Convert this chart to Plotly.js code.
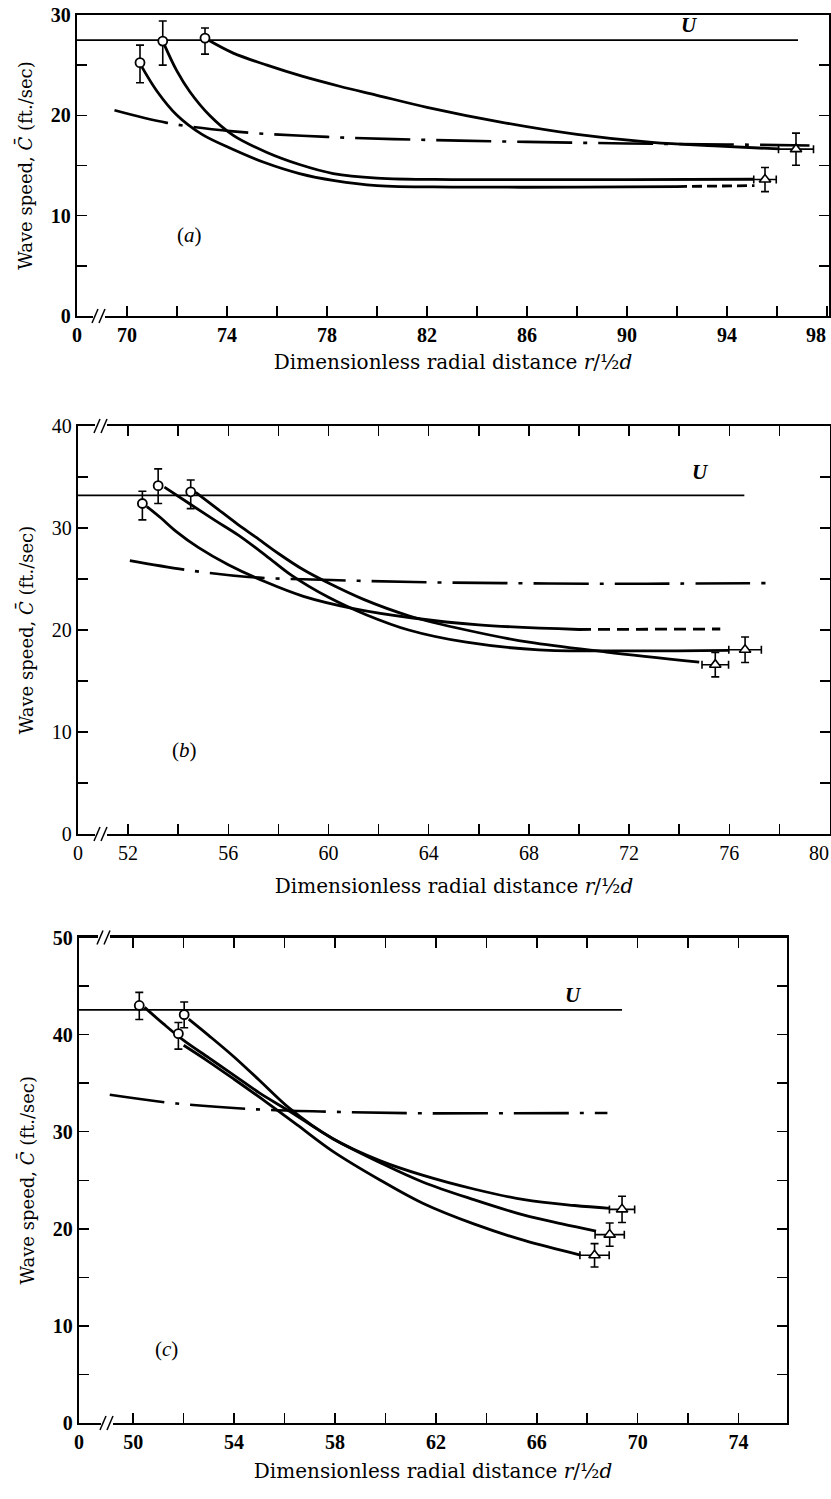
<!DOCTYPE html>
<html>
<head>
<meta charset="utf-8">
<script src="https://cdn.plot.ly/plotly-3.0.1.min.js"></script>
<style>html,body{margin:0;padding:0;background:#fff;}#chart{width:831px;height:1499px;}</style>
</head>
<body>
<div id="chart"></div>
<script>
// ---------- Panel (a) ----------
const aUx = [68, 96.84];
const aUy = [27.5, 27.5];
const aCircX = [70.52, 71.43, 73.12];
const aCircY = [25.25, 27.4, 27.7];
const aCircErrPlus = [1.75, 2.0, 1.0];
const aCircErrMinus = [2.0, 2.4, 1.6];
const aTriX = [95.52, 96.76];
const aTriY = [13.6, 16.63];
const aTriErrY = [1.2, 1.6];
const aTriErrX = [0.45, 0.7];
const aCurve1X = [70.6, 71.2, 72.0, 73.0, 74.25, 75.5, 76.9, 78.3, 80, 83, 88, 92];
const aCurve1Y = [24.8, 22.4, 20.0, 18.1, 16.6, 15.3, 14.2, 13.5, 13.0, 12.85, 12.85, 12.9];
const aCurve1DashX = [92, 95.1];
const aCurve1DashY = [12.9, 13.0];
const aCurve2X = [71.5, 72.0, 72.5, 73.3, 74.25, 75.6, 76.9, 78.25, 80, 83, 90, 95.05];
const aCurve2Y = [27.0, 24.4, 22.4, 20.0, 18.0, 16.3, 15.1, 14.2, 13.75, 13.6, 13.6, 13.63];
const aCurve3X = [73.25, 74.25, 75.6, 77, 78.5, 80, 82, 85, 88, 91, 93.5, 96.1];
const aCurve3Y = [27.5, 26.2, 25.0, 23.9, 22.9, 22.0, 20.8, 19.3, 18.1, 17.3, 16.95, 16.65];
const aDashDotX = [69.5, 71.6, 74.25, 78, 82, 86, 90, 94, 97.3];
const aDashDotY = [20.5, 19.25, 18.4, 17.85, 17.55, 17.35, 17.2, 17.1, 17.0];
const aXTickVals = [68, 70, 72, 74, 76, 78, 80, 82, 84, 86, 88, 90, 92, 94, 96, 98];
const aXTickText = ['0', '70', '', '74', '', '78', '', '82', '', '86', '', '90', '', '94', '', '98'];
const aYTickVals = [0, 5, 10, 15, 20, 25, 30];
const aYTickText = ['0', '', '10', '', '20', '', '30'];

// ---------- Panel (b) ----------
const bUx = [50, 76.6];
const bUy = [33.2, 33.2];
const bCircX = [52.57, 53.2, 54.5];
const bCircY = [32.4, 34.15, 33.55];
const bCircErrPlus = [1.2, 1.65, 1.15];
const bCircErrMinus = [1.6, 1.75, 1.65];
const bTriX = [75.44, 76.63];
const bTriY = [16.6, 18.07];
const bTriErrY = [1.2, 1.25];
const bTriErrX = [0.53, 0.65];
const bCurve1X = [52.75, 53.3, 53.9, 54.8, 56, 57.5, 59, 61, 63.3, 66, 70];
const bCurve1Y = [32.1, 31.0, 29.7, 28.1, 26.4, 24.7, 23.3, 22.1, 21.2, 20.5, 20.05];
const bCurve1DashX = [70.0, 75.64];
const bCurve1DashY = [20.05, 20.1];
const bCurve2X = [53.45, 54.5, 55.5, 56.4, 57.5, 58.5, 60, 61.5, 63.2, 65.5, 68.4, 72, 76];
const bCurve2Y = [34.0, 32.3, 30.7, 29.3, 27.3, 25.4, 23.2, 21.5, 20.0, 18.8, 18.05, 17.95, 18.0];
const bCurve3X = [54.7, 55.5, 56.3, 57.1, 58.0, 59.0, 60.0, 61.4, 63.2, 65.5, 68, 71.1, 74.8];
const bCurve3Y = [33.5, 32.0, 30.5, 29.1, 27.5, 25.9, 24.6, 23.0, 21.4, 20.0, 18.8, 17.84, 16.86];
const bDashDotX = [52.07, 54.3, 56.8, 60.1, 63.4, 67, 71.1, 74, 77.5];
const bDashDotY = [26.8, 25.9, 25.2, 24.9, 24.7, 24.6, 24.53, 24.55, 24.6];
const bXTickVals = [50, 52, 54, 56, 58, 60, 62, 64, 66, 68, 70, 72, 74, 76, 78, 80];
const bXTickText = ['0', '52', '', '56', '', '60', '', '64', '', '68', '', '72', '', '76', '', '80'];
const bYTickVals = [0, 5, 10, 15, 20, 25, 30, 35, 40];
const bYTickText = ['0', '', '10', '', '20', '', '30', '', '40'];

// ---------- Panel (c) ----------
const cUx = [47.85, 69.38];
const cUy = [42.55, 42.55];
const cCircX = [50.24, 51.79, 52.02];
const cCircY = [43.0, 40.1, 42.05];
const cCircErrPlus = [1.35, 1.15, 1.3];
const cCircErrMinus = [1.45, 1.6, 1.35];
const cTriX = [69.38, 68.89, 68.29];
const cTriY = [22.0, 19.4, 17.27];
const cTriErrY = [1.35, 1.2, 1.2];
const cTriErrX = [0.5, 0.58, 0.58];
const cCurve1X = [50.45, 51.2, 52.0, 53.0, 54.0, 55.0, 56.2, 57.9, 59.8, 61.5, 63.5, 65.5, 67, 68.35];
const cCurve1Y = [42.8, 41.1, 39.4, 37.6, 35.8, 34.0, 32.1, 29.3, 26.8, 24.8, 23.0, 21.4, 20.5, 19.75];
const cCurve2X = [52.0, 53.0, 54.0, 55.3, 56.5, 57.9, 59.8, 61.5, 63.5, 65.5, 67.73];
const cCurve2Y = [38.9, 37.2, 35.4, 33.0, 30.7, 28.0, 25.0, 22.6, 20.5, 18.8, 17.3];
const cCurve3X = [52.2, 53.0, 54.0, 55.0, 56.2, 57.9, 59.8, 61.5, 63.5, 65.5, 67.5, 68.9];
const cCurve3Y = [41.6, 39.9, 37.7, 35.3, 32.4, 29.3, 27.0, 25.5, 24.1, 23.0, 22.4, 22.1];
const cDashDotX = [49.07, 51.72, 54.9, 57.94, 61.25, 65, 68.8];
const cDashDotY = [33.8, 32.9, 32.3, 32.05, 31.9, 31.9, 31.93];
const cXTickVals = [47.85, 50, 52, 54, 56, 58, 60, 62, 64, 66, 68, 70, 72, 74];
const cXTickText = ['0', '50', '', '54', '', '58', '', '62', '', '66', '', '70', '', '74'];
const cYTickVals = [0, 5, 10, 15, 20, 25, 30, 35, 40, 45, 50];
const cYTickText = ['0', '', '10', '', '20', '', '30', '', '40', '', '50'];

// ---------- helpers ----------
const W = 831, H = 1499;
const FONT = 'Liberation Serif, Times New Roman, serif';
const TFONT = 'DejaVu Serif, Liberation Serif, serif';
const px = v => v / W;
const py = v => 1 - v / H;

function curve(x, y, xa, ya, opts) {
  opts = opts || {};
  return {
    x: x, y: y, xaxis: xa, yaxis: ya, type: 'scatter', mode: 'lines',
    line: {color: '#000', width: opts.width || 2.8, dash: opts.dash || 'solid', shape: opts.shape || 'spline', smoothing: 1},
    hoverinfo: 'skip', showlegend: false
  };
}
function circles(x, y, ep, em, xa, ya) {
  return {
    x: x, y: y, xaxis: xa, yaxis: ya, type: 'scatter', mode: 'markers',
    marker: {symbol: 'circle', size: 9, color: '#fff', line: {color: '#000', width: 1.8}},
    error_y: {type: 'data', symmetric: false, array: ep, arrayminus: em, color: '#000', thickness: 1.6, width: 4},
    showlegend: false, hoverinfo: 'skip'
  };
}
function triangles(x, y, ey, ex, xa, ya) {
  return {
    x: x, y: y, xaxis: xa, yaxis: ya, type: 'scatter', mode: 'markers',
    marker: {symbol: 'triangle-up', size: 10, color: '#fff', line: {color: '#000', width: 1.6}},
    error_y: {type: 'data', array: ey, color: '#000', thickness: 1.6, width: 4},
    error_x: {type: 'data', array: ex, color: '#000', thickness: 1.6, width: 4},
    showlegend: false, hoverinfo: 'skip'
  };
}

const DASHDOT = '55px,11px,4px,11px';

const data = [
  // (a)
  curve(aUx, aUy, 'x', 'y', {width: 1.6, shape: 'linear'}),
  curve(aDashDotX, aDashDotY, 'x', 'y', {width: 2.6, dash: DASHDOT}),
  curve(aCurve1X, aCurve1Y, 'x', 'y'),
  curve(aCurve1DashX, aCurve1DashY, 'x', 'y', {dash: '10px,5px', shape: 'linear'}),
  curve(aCurve2X, aCurve2Y, 'x', 'y'),
  curve(aCurve3X, aCurve3Y, 'x', 'y'),
  circles(aCircX, aCircY, aCircErrPlus, aCircErrMinus, 'x', 'y'),
  triangles(aTriX, aTriY, aTriErrY, aTriErrX, 'x', 'y'),
  // (b)
  curve(bUx, bUy, 'x2', 'y2', {width: 1.6, shape: 'linear'}),
  curve(bDashDotX, bDashDotY, 'x2', 'y2', {width: 2.6, dash: DASHDOT}),
  curve(bCurve1X, bCurve1Y, 'x2', 'y2'),
  curve(bCurve1DashX, bCurve1DashY, 'x2', 'y2', {dash: '12px,7px', shape: 'linear'}),
  curve(bCurve2X, bCurve2Y, 'x2', 'y2'),
  curve(bCurve3X, bCurve3Y, 'x2', 'y2'),
  circles(bCircX, bCircY, bCircErrPlus, bCircErrMinus, 'x2', 'y2'),
  triangles(bTriX, bTriY, bTriErrY, bTriErrX, 'x2', 'y2'),
  // (c)
  curve(cUx, cUy, 'x3', 'y3', {width: 1.6, shape: 'linear'}),
  curve(cDashDotX, cDashDotY, 'x3', 'y3', {width: 2.6, dash: DASHDOT}),
  curve(cCurve1X, cCurve1Y, 'x3', 'y3'),
  curve(cCurve2X, cCurve2Y, 'x3', 'y3'),
  curve(cCurve3X, cCurve3Y, 'x3', 'y3'),
  circles(cCircX, cCircY, cCircErrPlus, cCircErrMinus, 'x3', 'y3'),
  triangles(cTriX, cTriY, cTriErrY, cTriErrX, 'x3', 'y3')
];

// the last label of an axis sits at the page edge: it is drawn as a right-anchored note instead
function withoutLast(arr) { return arr.slice(0, -1).concat(['']); }

function xAxis(domain, range, vals, text, anchor, mirror, bold, standoff) {
  return {
    domain: domain, range: range, anchor: anchor, tickmode: 'array', tickvals: vals, ticktext: text,
    ticks: 'inside', ticklen: 10, tickwidth: 1.5, tickcolor: '#000',
    showline: true, linecolor: '#000', linewidth: 2.2, mirror: mirror,
    showgrid: false, zeroline: false, automargin: false, ticklabeloverflow: 'allow',
    tickfont: {family: FONT, size: 20, color: '#000', weight: bold ? 'bold' : 'normal'},
    title: {text: 'Dimensionless radial distance <i>r</i>/½<i>d</i>', font: {family: TFONT, size: 20, color: '#000'}, standoff: standoff}
  };
}
function yAxis(domain, range, vals, text, anchor, bold) {
  return {
    domain: domain, range: range, anchor: anchor, tickmode: 'array', tickvals: vals, ticktext: text,
    ticks: 'inside', ticklen: 10, tickwidth: 1.5, tickcolor: '#000',
    showline: true, linecolor: '#000', linewidth: 2.2, mirror: 'ticks',
    showgrid: false, zeroline: false, automargin: false,
    tickfont: {family: FONT, size: 20, color: '#000', weight: bold ? 'bold' : 'normal'},
    title: {text: 'Wave speed, <i>C̄</i> (ft./sec)', font: {family: TFONT, size: 18, color: '#000'}, standoff: 14}
  };
}

const domA = {x: [px(77), px(829)], y: [py(316), py(15)]};
const domB = {x: [px(78), px(830)], y: [py(834), py(426)]};
const domC = {x: [px(79), px(787)], y: [py(1423), py(937.5)]};

// axis-break decorations (pixel positions of the "//" marks)
function breakMark(x0, yAxisPx) {
  const shapes = [];
  shapes.push({type: 'line', xref: 'paper', yref: 'paper', x0: px(x0 - 1), x1: px(x0 + 11), y0: py(yAxisPx), y1: py(yAxisPx), line: {color: '#fff', width: 5}});
  shapes.push({type: 'line', xref: 'paper', yref: 'paper', x0: px(x0 - 2), x1: px(x0 + 4), y0: py(yAxisPx + 7), y1: py(yAxisPx - 7), line: {color: '#000', width: 1.5}});
  shapes.push({type: 'line', xref: 'paper', yref: 'paper', x0: px(x0 + 5), x1: px(x0 + 11), y0: py(yAxisPx + 7), y1: py(yAxisPx - 7), line: {color: '#000', width: 1.5}});
  return shapes;
}
const shapes = [].concat(
  breakMark(94, 316),
  breakMark(96, 834), breakMark(96, 426),
  breakMark(102, 1423), breakMark(99, 937.5)
);

function note(text, x, y, xa, ya) {
  return {text: text, x: x, y: y, xref: xa, yref: ya, showarrow: false,
    font: {family: FONT, size: 21, color: '#000'}};
}
function edgeLabel(text, x, yPx, xa, bold) {
  return {text: text, x: x, y: py(yPx), xref: xa, yref: 'paper', xanchor: 'right', yanchor: 'middle',
    xshift: 1, showarrow: false,
    font: {family: FONT, size: 20, color: '#000', weight: bold ? 'bold' : 'normal'}};
}
const annotations = [
  note('<b><i>U</i></b>', 92.5, 29.0, 'x', 'y'),
  note('(<i>a</i>)', 72.5, 8.1, 'x', 'y'),
  note('<b><i>U</i></b>', 74.85, 35.5, 'x2', 'y2'),
  note('(<i>b</i>)', 54.25, 8.2, 'x2', 'y2'),
  note('<b><i>U</i></b>', 67.44, 44.1, 'x3', 'y3'),
  note('(<i>c</i>)', 51.3, 7.6, 'x3', 'y3'),
  edgeLabel(aXTickText[aXTickText.length - 1], aXTickVals[aXTickVals.length - 1], 335, 'x', true),
  edgeLabel(bXTickText[bXTickText.length - 1], bXTickVals[bXTickVals.length - 1], 853, 'x2', false)
];

const layout = {
  width: W, height: H,
  margin: {l: 0, r: 0, t: 0, b: 0},
  paper_bgcolor: '#fff', plot_bgcolor: '#fff',
  showlegend: false,
  font: {family: FONT, color: '#000'},
  xaxis: xAxis(domA.x, [68, 98.08], aXTickVals, withoutLast(aXTickText), 'y', true, true, 10),
  yaxis: yAxis(domA.y, [0, 30], aYTickVals, aYTickText, 'x', true),
  xaxis2: xAxis(domB.x, [50, 80.02], bXTickVals, withoutLast(bXTickText), 'y2', 'ticks', false, 16),
  yaxis2: yAxis(domB.y, [0, 40], bYTickVals, bYTickText, 'x2', false),
  xaxis3: xAxis(domC.x, [47.85, 75.92], cXTickVals, cXTickText, 'y3', 'ticks', true, 12),
  yaxis3: yAxis(domC.y, [0, 50], cYTickVals, cYTickText, 'x3', true),
  shapes: shapes,
  annotations: annotations
};

Plotly.newPlot('chart', data, layout, {staticPlot: true, displayModeBar: false});
</script>
</body>
</html>
